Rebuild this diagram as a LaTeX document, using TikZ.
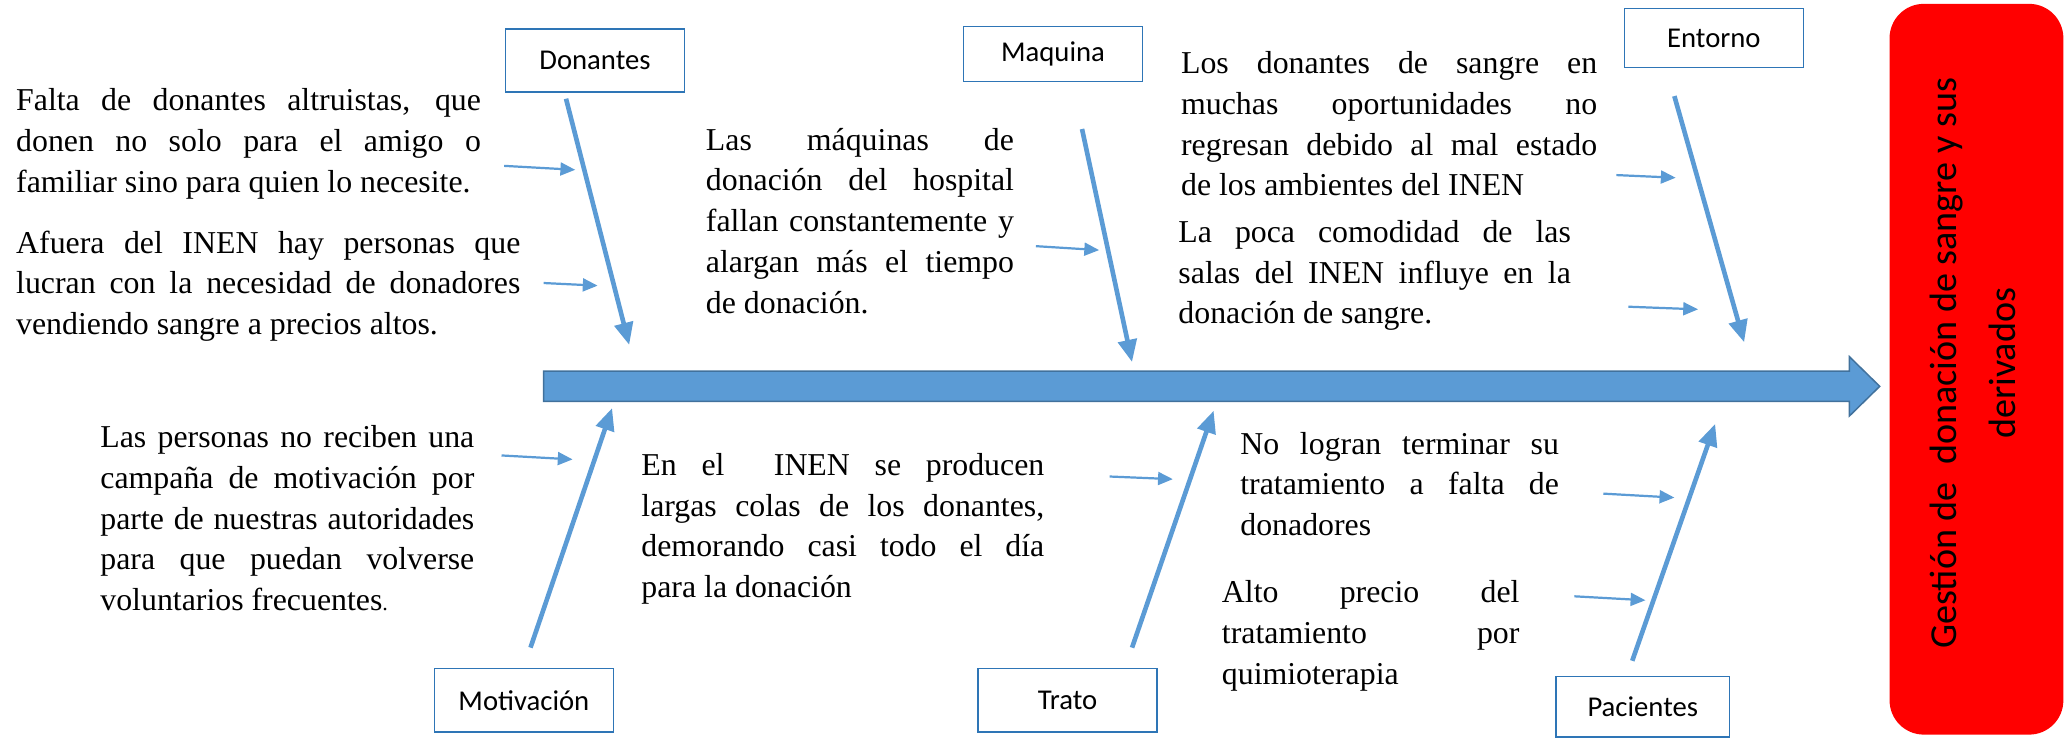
\documentclass[tikz,border=0pt]{standalone}
\usepackage{fontspec}
\setmainfont{Liberation Serif}
\newfontfamily\calibri{Carlito}
\usetikzlibrary{arrows.meta,positioning}
\definecolor{bone}{HTML}{5B9BD5}
\definecolor{boxline}{HTML}{2E75B6}
\definecolor{spineline}{HTML}{41719C}
\definecolor{effectred}{HTML}{FF0000}
% one justified line of a cause text, and its last line
\newcommand{\jline}[1]{\makebox[\linewidth][s]{\spaceskip=0pt\xspaceskip=0pt #1}\\}
\newcommand{\lline}[1]{\mbox{\spaceskip=0pt\xspaceskip=0pt #1}}

\begin{document}
\begin{tikzpicture}[x=0.025cm,y=-0.025cm,>=Latex]
  \tikzset{catbox/.style={draw=boxline,thick,minimum width=3.4cm,minimum height=1.2cm,font=\calibri\fontsize{15.5}{18}\selectfont,fill=white},
    cause/.style={anchor=north west,inner sep=0pt,align=left,font=\fontsize{17.2}{22}\selectfont},
    bonearrow/.style={draw=bone,line width=2.5pt,-{Triangle[length=12pt,width=10pt]}},
    subarrow/.style={draw=bone,line width=1.2pt,-{Triangle[length=8pt,width=7pt]}}}
  \useasboundingbox (0,0) rectangle (1568,561);

  % effect
  \node[fill=effectred,rounded corners=0.65cm,minimum width=3.3cm,minimum height=13.875cm] (effect) at (1501.5,280.5) {};
  \node[rotate=90,align=center,font=\calibri\fontsize{20.6}{32}\selectfont] (effecttext) at (1499,276) {Gestión de\ \ donación de sangre y sus\\derivados};

  % spine
  \coordinate (spinetail) at (413,293.5);
  \coordinate (spinetip) at (1428,293.5);
  \draw[spineline,fill=bone,line width=0.8pt] (413,282) -- (1405,282) -- (1405,271) -- (spinetip)
    -- (1405,316) -- (1405,305) -- (413,305) -- cycle;

  % category boxes
  \node[catbox] (donantes) at (452,46) {Donantes};
  \node[catbox,minimum height=1.05cm] (maquina) at (800,41) {Maquina};
  \node[catbox,minimum height=1.12cm] (entorno) at (1302,29) {Entorno};
  \node[catbox] (motivacion) at (398,532) {Motivación};
  \node[catbox] (trato) at (811,532) {Trato};
  \node[catbox,minimum width=3.3cm,minimum height=1.15cm] (pacientes) at (1248,537) {Pacientes};

  % bones
  \coordinate (donantes-s) at (430,75);   \coordinate (donantes-e) at (478,262);
  \coordinate (maquina-s) at (822,98);    \coordinate (maquina-e) at (860,275);
  \coordinate (entorno-s) at (1272,73);   \coordinate (entorno-e) at (1325,260);
  \coordinate (motivacion-s) at (403,492); \coordinate (motivacion-e) at (465,310);
  \coordinate (trato-s) at (860,492);     \coordinate (trato-e) at (922,312);
  \coordinate (pacientes-s) at (1240,502); \coordinate (pacientes-e) at (1303,322);
  \draw[bonearrow] (donantes-s) -- (donantes-e);
  \draw[bonearrow] (maquina-s) -- (maquina-e);
  \draw[bonearrow] (entorno-s) -- (entorno-e);
  \draw[bonearrow] (motivacion-s) -- (motivacion-e);
  \draw[bonearrow] (trato-s) -- (trato-e);
  \draw[bonearrow] (pacientes-s) -- (pacientes-e);

  % causes
  \node[cause,text width=8.825cm] (falta) at (12,67) {\jline{Falta de donantes altruistas, que}\jline{donen no solo para el amigo o}\lline{familiar sino para quien lo necesite.}};
  \node[cause,text width=9.575cm] (afuera) at (12,175) {\jline{Afuera del INEN hay personas que}\jline{lucran con la necesidad de donadores}\lline{vendiendo sangre a precios altos.}};
  \node[cause,text width=5.85cm] (maquinas) at (536,97) {\jline{Las máquinas de}\jline{donación del hospital}\jline{fallan constantemente y}\jline{alargan más el tiempo}\lline{de donación.}};
  \node[cause,text width=7.9cm] (regresan) at (897,39) {\jline{Los donantes de sangre en}\jline{muchas oportunidades no}\jline{regresan debido al mal estado}\lline{de los ambientes del INEN}};
  \node[cause,text width=7.45cm] (salas) at (895,167) {\jline{La poca comodidad de las}\jline{salas del INEN influye en la}\lline{donación de sangre.}};
  \node[cause,text width=7.1cm] (campana) at (76,323) {\jline{Las personas no reciben una}\jline{campaña de motivación por}\jline{parte de nuestras autoridades}\jline{para que puedan volverse}\lline{voluntarios frecuentes{\fontsize{12}{22}\selectfont.}}};
  \node[cause,text width=7.65cm] (colas) at (487,344) {\jline{En el\ \ INEN se producen}\jline{largas colas de los donantes,}\jline{demorando casi todo el día}\lline{para la donación}};
  \node[cause,text width=6.05cm] (terminar) at (942,328) {\jline{No logran terminar su}\jline{tratamiento a falta de}\lline{donadores}};
  \node[cause,text width=5.65cm] (precio) at (928,441) {\jline{Alto precio del}\jline{tratamiento por}\lline{quimioterapia}};

  % cause arrows
  \coordinate (falta-s) at (383,126);    \coordinate (falta-e) at (437,129);
  \coordinate (afuera-s) at (413,215);   \coordinate (afuera-e) at (454,217);
  \coordinate (maquinas-s) at (787,187); \coordinate (maquinas-e) at (835,190);
  \coordinate (regresan-s) at (1228,133); \coordinate (regresan-e) at (1273,135);
  \coordinate (salas-s) at (1237,233);   \coordinate (salas-e) at (1290,235);
  \coordinate (campana-s) at (381,346);  \coordinate (campana-e) at (435,349);
  \coordinate (colas-s) at (843,362);    \coordinate (colas-e) at (891,364);
  \coordinate (terminar-s) at (1218,375); \coordinate (terminar-e) at (1272,378);
  \coordinate (precio-s) at (1196,453);  \coordinate (precio-e) at (1250,456);
  \foreach \c in {falta,afuera,maquinas,regresan,salas,campana,colas,terminar,precio}
    \draw[subarrow] (\c-s) -- (\c-e);
\end{tikzpicture}
\end{document}
